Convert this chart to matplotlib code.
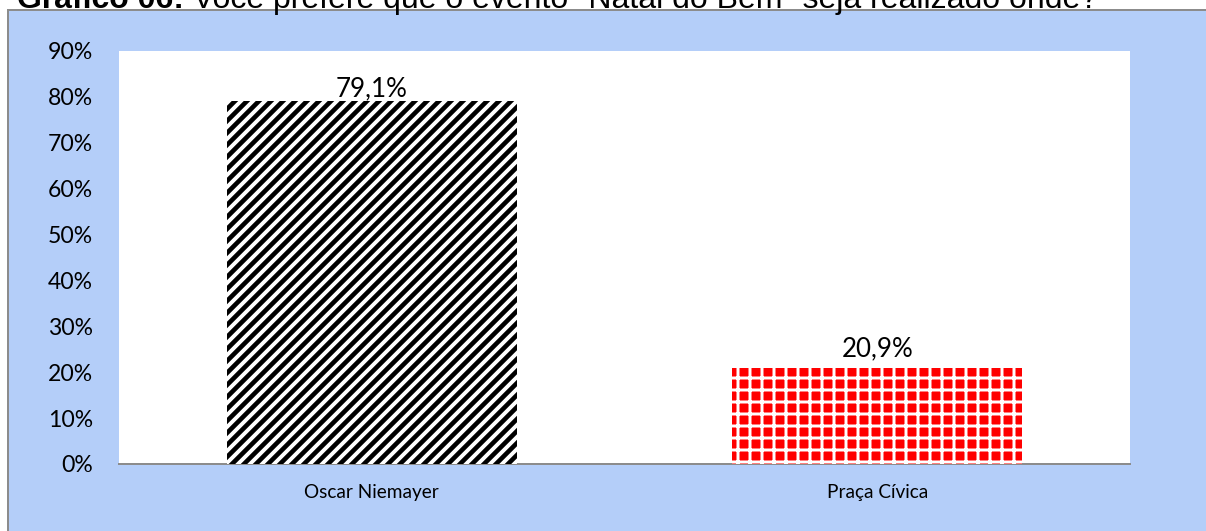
import matplotlib
matplotlib.use("Agg")
import matplotlib.pyplot as plt
from matplotlib.patches import Rectangle
from matplotlib.ticker import PercentFormatter, MultipleLocator

categories = ["Oscar Niemayer", "Praça Cívica"]
values = [79.1, 20.9]
value_labels = ["79,1%", "20,9%"]
title_bold = "Gráfico 06:"
title_rest = " Você prefere que o evento \"Natal do Bem\" seja realizado onde?"

W, H = 1206, 531
DPI = 72
fig = plt.figure(figsize=(W / DPI, H / DPI), dpi=DPI)
fig.patch.set_facecolor("white")

blue = "#B4CEF9"
# blue panel with gray left/top border
fig.patches.append(Rectangle((8 / W, -0.1), 1.2, (H - 10) / H + 0.1, transform=fig.transFigure,
                             facecolor=blue, edgecolor="#8C8C8C", linewidth=2, zorder=-5))

ax = fig.add_axes([119 / W, (H - 464) / H, 1011 / W, 413 / H])
ax.set_facecolor("white")
ax.set_zorder(1)

x = list(range(len(categories)))
styles = [dict(facecolor="white", edgecolor="black", hatch="//", hlw=4.6),
          dict(facecolor="#FF0000", edgecolor="white", hatch="+", hlw=3.0)]
for xi, v, st in zip(x, values, styles):
    with plt.rc_context({"hatch.linewidth": st["hlw"]}):
        b = ax.bar(xi, v, width=0.574, color=st["facecolor"], edgecolor=st["edgecolor"],
                   hatch=st["hatch"], linewidth=0, zorder=3)
        for p in b.patches:
            if hasattr(p, "set_hatch_linewidth"):
                p.set_hatch_linewidth(st["hlw"])

offsets = [0, 7]
for xi, v, lab, off in zip(x, values, value_labels, offsets):
    ax.annotate(lab, (xi, v), xytext=(0, off), textcoords="offset points",
                ha="center", va="bottom", fontsize=26, family="Lato", color="black")

ax.set_xlim(-0.5, 1.5)
ax.set_ylim(0, 90)
ax.yaxis.set_major_locator(MultipleLocator(10))
ax.yaxis.set_major_formatter(PercentFormatter(decimals=0))
ax.set_xticks(x)
ax.set_xticklabels(categories)
for s in ["left", "top", "right"]:
    ax.spines[s].set_visible(False)
ax.spines["bottom"].set_color("#8C8C8C")
ax.spines["bottom"].set_linewidth(2)
ax.tick_params(axis="y", length=0, pad=26, labelsize=23)
ax.tick_params(axis="x", length=0, pad=20, labelsize=19)
for t in ax.get_yticklabels() + ax.get_xticklabels():
    t.set_family("Lato")

# title partially cut at top
tb = fig.text(17 / W, 1 - 8 / H, title_bold, fontsize=32, fontweight="bold",
              family="Liberation Sans", va="baseline", ha="left")
fig.canvas.draw()
bb = tb.get_window_extent()
fig.text(bb.x1 / W, 1 - 8 / H, title_rest, fontsize=32, family="Liberation Sans",
         va="baseline", ha="left")

fig.savefig("out.png", dpi=DPI)
